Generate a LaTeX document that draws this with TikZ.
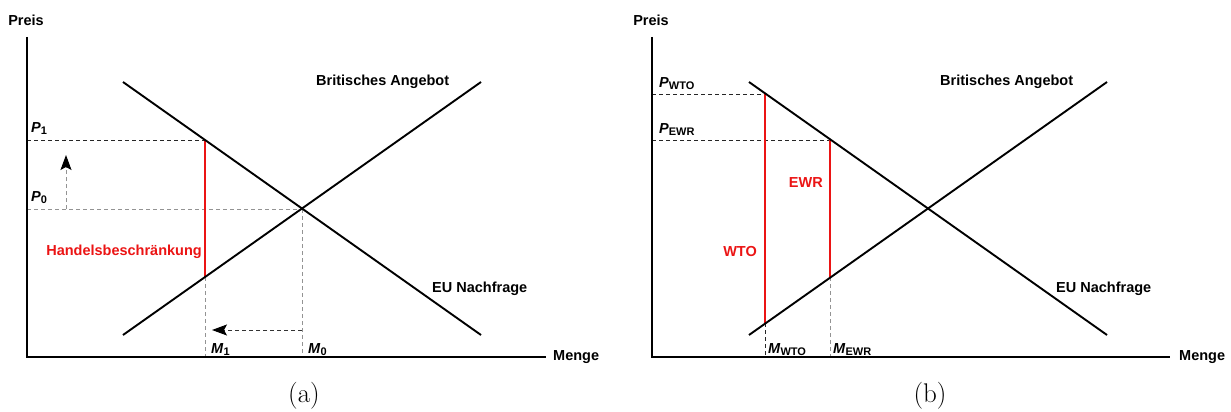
\documentclass[tikz,border=0pt]{standalone}
\usepackage{fontspec}
\newfontfamily\arialfont{Liberation Sans}
\usetikzlibrary{arrows.meta}
\newcommand{\lblfont}{\arialfont\bfseries\fontsize{14.5}{17}\selectfont}
\newcommand{\sublbl}[2]{\textit{#1}\raisebox{-0.3ex}{\fontsize{11}{12}\selectfont #2}}
\begin{document}
\begin{tikzpicture}[x=1pt,y=-1pt,
  axis/.style={line width=2.6pt, line join=miter},
  curve/.style={line width=1.9pt},
  quota/.style={line width=1.9pt, draw={rgb,255:red,235;green,20;blue,20}},
  guide/.style={line width=1pt, dash pattern=on 4pt off 3pt, draw=gray!85},
  guidedark/.style={line width=1pt, dash pattern=on 4pt off 3pt, draw=black!85},
  movearrow/.style={guide, -{Stealth[length=15pt,width=11pt,inset=3pt,black]}},
  txt/.style={font=\lblfont, inner sep=0pt},
  redtxt/.style={txt, text={rgb,255:red,235;green,20;blue,20}},
  captxt/.style={font=\fontsize{27}{30}\selectfont, inner sep=0pt}
]
\useasboundingbox (0,0) rectangle (1231,412);

% ---------- panel (a) ----------
\coordinate (aTop) at (27,37);
\coordinate (aO) at (27,357);
\coordinate (aEnd) at (546,357);
\coordinate (aD1) at (123,82);  \coordinate (aD2) at (481,335);
\coordinate (aS1) at (123,335); \coordinate (aS2) at (481,82);
\coordinate (aE) at (302,209);
\coordinate (aA) at (205,140);
\coordinate (aB) at (205,277);
\coordinate (aP1) at (27,140);
\coordinate (aP0) at (27,209);
\coordinate (aM1) at (205,357);
\coordinate (aM0) at (302,357);
\coordinate (aUp0) at (66,209);  \coordinate (aUp1) at (66,155);
\coordinate (aLf0) at (302,330); \coordinate (aLf1) at (212,330);

\draw[guidedark] (aP1) -- (aA);
\draw[guide] (aP0) -- (aE);
\draw[guide] (aE) -- (aM0);
\draw[guide] (aB) -- (aM1);
\draw[movearrow] (aUp0) -- (aUp1);
\draw[movearrow, draw=black!80] (aLf0) -- (aLf1);
\draw[quota] (aA) -- (aB);
\draw[curve] (aD1) -- (aD2);
\draw[curve] (aS1) -- (aS2);
\draw[axis] (aTop) -- (aO) -- (aEnd);

\node[txt] (aPreis) at (26,20) {Preis};
\node[txt, anchor=west] (aMenge) at (553,357) {Menge};
\node[txt, anchor=base west] (aLP1) at (31,132) {\sublbl{P}{1}};
\node[txt, anchor=base west] (aLP0) at (31,201) {\sublbl{P}{0}};
\node[txt, anchor=base west] (aLM1) at (211,353) {\sublbl{M}{1}};
\node[txt, anchor=base west] (aLM0) at (308,353) {\sublbl{M}{0}};
\node[redtxt, anchor=east] (aHB) at (202,252) {Handelsbeschränkung};
\node[txt, anchor=west] (aBA) at (316,82) {Britisches Angebot};
\node[txt, anchor=west] (aEU) at (432,289) {EU Nachfrage};
\node[captxt] (capa) at (304,396) {(a)};

% ---------- panel (b) ----------
\coordinate (bTop) at (652,37);
\coordinate (bO) at (652,357);
\coordinate (bEnd) at (1170,357);
\coordinate (bD1) at (749,82);  \coordinate (bD2) at (1107,335);
\coordinate (bS1) at (749,335); \coordinate (bS2) at (1107,82);
\coordinate (bW1) at (765,94);  \coordinate (bW2) at (765,323);
\coordinate (bR1) at (830,140); \coordinate (bR2) at (830,277);
\coordinate (bPW) at (652,94);
\coordinate (bPR) at (652,140);
\coordinate (bMW) at (765,357);
\coordinate (bMR) at (830,357);

\draw[guidedark] (bPW) -- (bW1);
\draw[guidedark] (bPR) -- (bR1);
\draw[guidedark] (bW2) -- (bMW);
\draw[guide] (bR2) -- (bMR);
\draw[quota] (bW1) -- (bW2);
\draw[quota] (bR1) -- (bR2);
\draw[curve] (bD1) -- (bD2);
\draw[curve] (bS1) -- (bS2);
\draw[axis] (bTop) -- (bO) -- (bEnd);

\node[txt] (bPreis) at (651,20) {Preis};
\node[txt, anchor=west] (bMenge) at (1179,357) {Menge};
\node[txt, anchor=base west] (bLPW) at (659,87) {\sublbl{P}{WTO}};
\node[txt, anchor=base west] (bLPR) at (659,133) {\sublbl{P}{EWR}};
\node[txt, anchor=base west] (bLMW) at (768,353) {\sublbl{M}{WTO}};
\node[txt, anchor=base west] (bLMR) at (833,353) {\sublbl{M}{EWR}};
\node[redtxt, anchor=east] (bEWR) at (823,183) {EWR};
\node[redtxt, anchor=east] (bWTO) at (757,252) {WTO};
\node[txt, anchor=west] (bBA) at (940,82) {Britisches Angebot};
\node[txt, anchor=west] (bEU) at (1056,289) {EU Nachfrage};
\node[captxt] (capb) at (930,396) {(b)};
\end{tikzpicture}
\end{document}
